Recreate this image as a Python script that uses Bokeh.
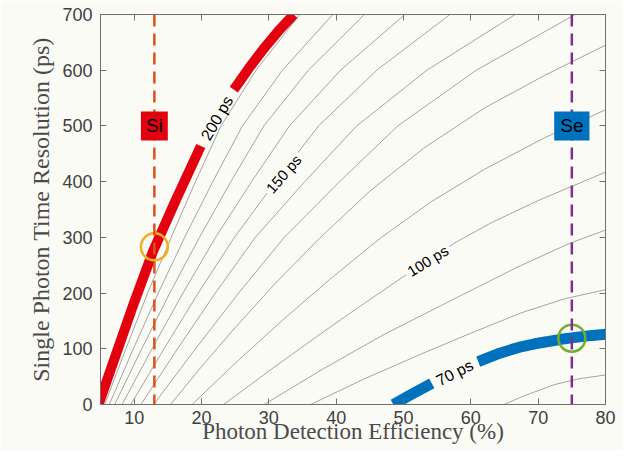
from bokeh.plotting import figure
from bokeh.models import LinearAxis, Label, Span, Range1d, FixedTicker
from bokeh.embed import file_html
from bokeh.resources import INLINE

nan = float("nan")

# ---- data ----
pde_ticks = [10, 20, 30, 40, 50, 60, 70, 80]
sptr_ticks = [0, 100, 200, 300, 400, 500, 600, 700]

# highlighted contours (NaN = gap for the in-line label)
red_pde = [4.7, 7.3, 9.9, 12.8, 16.3, 19.9, nan, 24.8, 27.0, 29.2, 31.4, 33.7]
red_sptr = [0, 90, 180, 275, 370, 464, nan, 565, 603, 638, 670, 700]
blue_pde = [48.5, 51.0, 54.2, nan, 61.1, 64.3, 66.0, 67.6, 69.5, 71.5, 73.4, 75.3, 78.0, 81.0]
blue_sptr = [0, 17, 38, nan, 77, 92, 98.5, 104, 109, 113, 117, 120, 124, 127]

# gray contours leaving through the top edge (values at these SPTR levels)
top_sptr = [0, 100, 200, 300, 400, 500, 600, 700]
t1_pde = [5.6, 8.77, 12.0, 15.5, 19.1, 22.9, 28.1, 34.6]
t2_pde = [6.3, 9.88, 13.58, 17.5, 21.68, 26.08, 32.02, 39.5]
t3_pde = [7.1, 11.13, 15.29, 19.7, 24.36, 29.26, 35.87, 44.2]
t4_pde = [8.2, 12.65, 17.24, 22.1, 27.44, 33.06, 40.65, 50.2]
t5_pde = [9.5, 14.43, 19.51, 24.9, 30.98, 37.38, 46.02, 56.9]
t6_pde = [11.0, 16.44, 22.05, 28.0, 35.33, 43.05, 53.48, 66.6]
t7_pde = [12.9, 19.11, 25.51, 32.3, 40.51, 49.15, 60.81, 75.5]

# gray contours leaving through the right edge
r1_pde = [15.4, 20, 25, 31, 37.5, 45, 53, 62, 71, 80]
r1_sptr = [0, 68, 138, 218, 298, 383, 460, 532, 591, 645]
r2_pde = [18.6, 25, 32, 39, 46.5, 54, 62, 71, 80]
r2_sptr = [0, 74, 151, 224, 298, 363, 422, 479, 529]
r3_pde = [23.3, 30, 37, 43.5, 49.7, 57.6, 63, 70, 80]
r3_sptr = [0, 60, 121, 176, 227, 290, 326, 366, 417]
r4_pde = [29.3, 37.8, 47, 57.6, 67, 74.8, 80]
r4_sptr = [0, 62, 125, 190, 247, 290, 313]
r5_pde = [36.2, 44, 52.7, 60, 67.6, 74, 80]
r5_sptr = [0, 45, 91, 128, 165, 190, 206]
r6_pde = [64.9, 68, 72.5, 76, 80]
r6_sptr = [0, 16, 36, 46, 53]

si_pde, si_sptr = 13.0, 283
se_pde, se_sptr = 75.0, 119
tag_sptr = 500

# ---- style ----
BG = "#fbfbf6"
FRAME = "#707070"
RED = "#e3000f"
BLUE = "#0072bd"
GRAY = "#9a9a9a"

p = figure(width=623, height=451, x_range=Range1d(5, 80), y_range=Range1d(0, 700),
           output_backend="svg", toolbar_location=None,
           min_border_left=100, min_border_right=18, min_border_top=14, min_border_bottom=47)
p.background_fill_color = BG
p.border_fill_color = BG
p.grid.visible = False
p.outline_line_color = FRAME
p.outline_line_width = 1


def style_axis(ax, ticks, show_labels):
    ax.ticker = FixedTicker(ticks=ticks)
    ax.major_tick_in = 6
    ax.major_tick_out = 0
    ax.minor_tick_line_color = None
    ax.axis_line_color = FRAME
    ax.major_tick_line_color = FRAME
    ax.major_label_text_font = "Liberation Sans"
    if show_labels:
        ax.major_label_text_font_size = "18px"
        ax.major_label_text_color = "#404040"
    else:
        ax.major_label_text_font_size = "1px"
        ax.major_label_text_color = None
        ax.major_label_standoff = 0


style_axis(p.xaxis[0], pde_ticks, True)
style_axis(p.yaxis[0], sptr_ticks, True)
p.xaxis[0].major_label_standoff = 6
p.yaxis[0].major_label_standoff = 8
for ax, lab, size in ((p.xaxis[0], "Photon Detection Efficiency (%)", "23px"),
                      (p.yaxis[0], "Single Photon Time Resolution (ps)", "24px")):
    ax.axis_label = lab
    ax.axis_label_text_font = "Liberation Serif"
    ax.axis_label_text_font_size = size
    ax.axis_label_text_font_style = "normal"
    ax.axis_label_text_color = "#4a4a4a"
p.xaxis[0].axis_label_standoff = -8
p.yaxis[0].axis_label_standoff = 5

top_ax = LinearAxis()
style_axis(top_ax, pde_ticks, False)
p.add_layout(top_ax, "above")
right_ax = LinearAxis()
style_axis(right_ax, sptr_ticks, False)
p.add_layout(right_ax, "right")

# gray contour lines
gray_xs = [t1_pde, t2_pde, t3_pde, t4_pde, t5_pde, t6_pde, t7_pde,
           r1_pde, r2_pde, r3_pde, r4_pde, r5_pde, r6_pde]
gray_ys = [top_sptr] * 7 + [r1_sptr, r2_sptr, r3_sptr, r4_sptr, r5_sptr, r6_sptr]
p.multi_line(xs=gray_xs, ys=gray_ys, line_color=GRAY, line_width=0.9)

# labels on gray contours (background hides the line under the text)
for x, y, txt, ang in ((32.2, 414, "150 ps", 49), (53.6, 258, "100 ps", 32)):
    p.add_layout(Label(x=x, y=y, text=txt, angle=ang, angle_units="deg",
                       text_align="center", text_baseline="middle",
                       text_font="Liberation Sans", text_font_size="15px",
                       text_color="black", background_fill_color=BG, padding=3))

# dashed material lines
p.add_layout(Span(location=si_pde, dimension="height", line_color="#D95319",
                  line_width=2.5, line_dash="12 7"))
p.add_layout(Span(location=se_pde, dimension="height", line_color="#7E2F8E",
                  line_width=2.5, line_dash="12 7"))

# highlighted contours
p.line(red_pde, red_sptr, line_color=RED, line_width=10)
p.line(blue_pde, blue_sptr, line_color=BLUE, line_width=11)

for x, y, txt, ang in ((22.3, 514, "200 ps", 60), (57.6, 57, "70 ps", 27)):
    p.add_layout(Label(x=x, y=y, text=txt, angle=ang, angle_units="deg",
                       text_align="center", text_baseline="middle",
                       text_font="Liberation Sans", text_font_size="16px",
                       text_color="black"))

# operating points
p.scatter([si_pde], [si_sptr], marker="circle", size=27, fill_color=None,
          line_color="#EDB120", line_width=2.5)
p.scatter([se_pde], [se_sptr], marker="circle", size=27, fill_color=None,
          line_color="#77AC30", line_width=2.5)

# material tags
p.add_layout(Label(x=si_pde, y=tag_sptr, text="Si", text_align="center",
                   text_baseline="middle", text_font="Liberation Sans",
                   text_font_size="19px", text_color="black",
                   background_fill_color=RED, padding=(5, 4)))
p.add_layout(Label(x=se_pde, y=tag_sptr, text="Se", text_align="center",
                   text_baseline="middle", text_font="Liberation Sans",
                   text_font_size="19px", text_color="black",
                   background_fill_color=BLUE, padding=(6, 4)))

open("out.html", "w").write(file_html(p, INLINE))
